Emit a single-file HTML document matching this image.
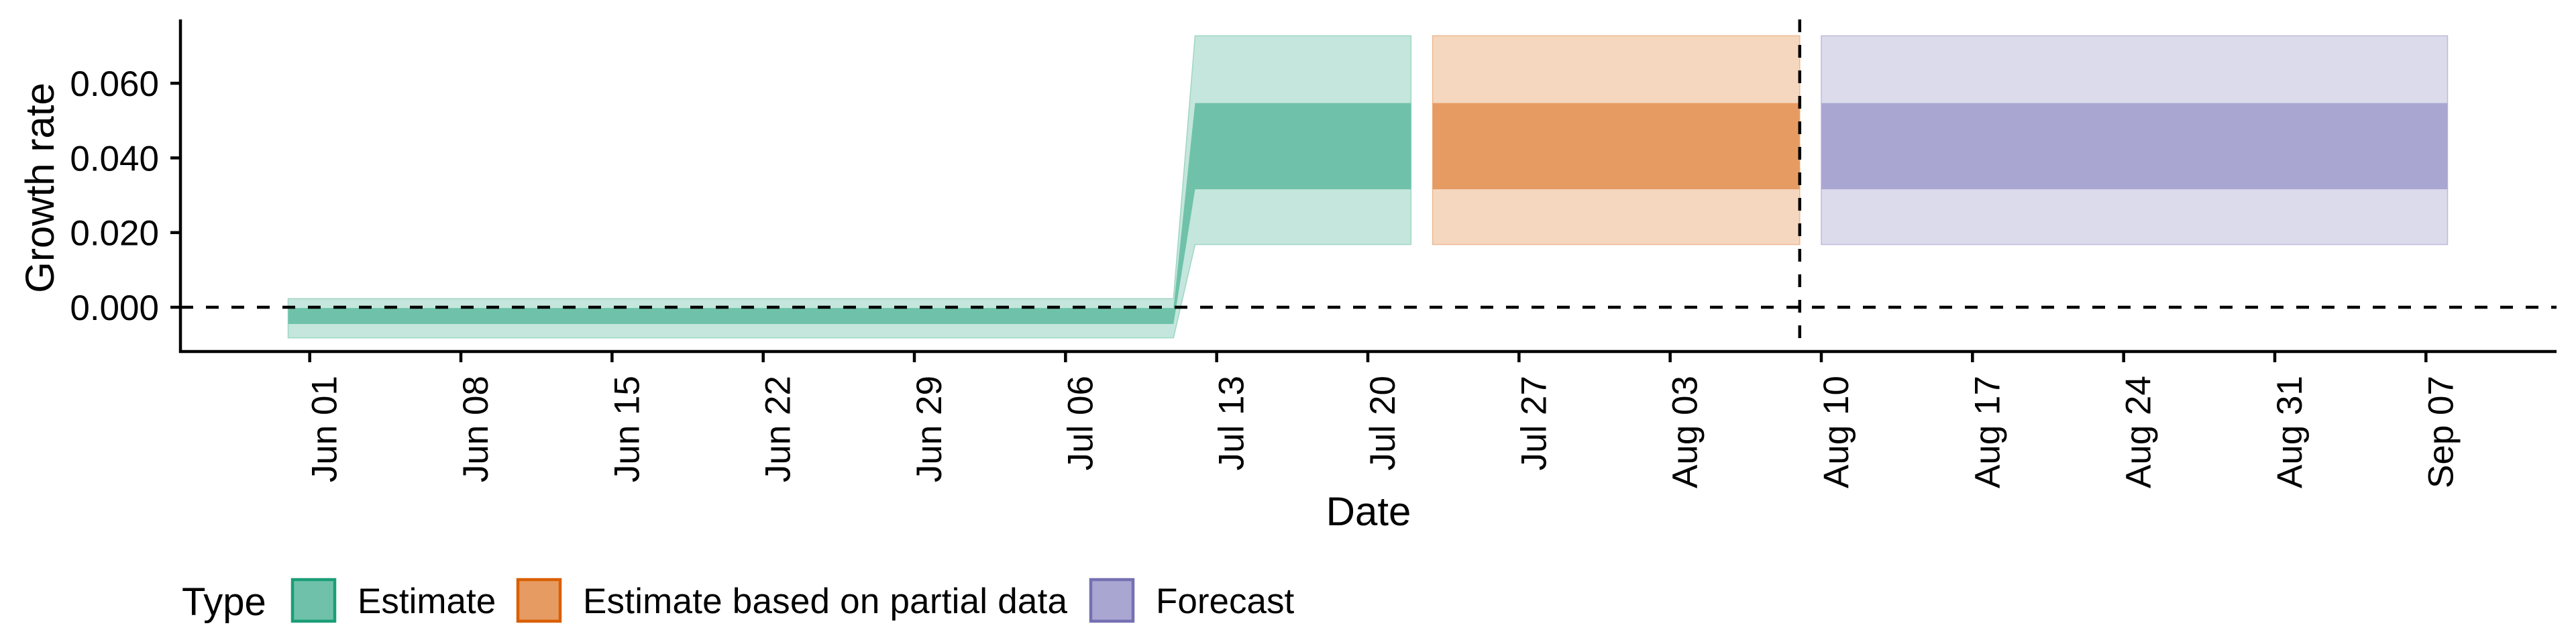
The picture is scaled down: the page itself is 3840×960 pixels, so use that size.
<!DOCTYPE html>
<html><head><meta charset="utf-8"><style>
html,body{margin:0;padding:0;background:#fff;}
svg{display:block;font-family:"Liberation Sans",Arial,sans-serif;}
</style></head><body>
<svg id="chart" width="3840" height="960" viewBox="0 0 3840 960" xmlns="http://www.w3.org/2000/svg">
<g id="bands"></g>
<g id="axes"></g>
</svg>
<script>
const tickDays = [0,7,14,21,28,35,42,49,56,63,70,77,84,91,98];
const tickLabels = ["Jun 01","Jun 08","Jun 15","Jun 22","Jun 29","Jul 06","Jul 13","Jul 20","Jul 27","Aug 03","Aug 10","Aug 17","Aug 24","Aug 31","Sep 07"];
const yTicks = [0, 0.02, 0.04, 0.06];
const yTickLabels = ["0.000","0.020","0.040","0.060"];
const estDays = [-1, 40, 41, 51];
const estLo90 = [-0.0082, -0.0082, 0.0168, 0.0168];
const estHi90 = [0.0023, 0.0023, 0.0727, 0.0727];
const estLo50 = [-0.0045, -0.0045, 0.0316, 0.0316];
const estHi50 = [-0.0002, -0.0002, 0.0547, 0.0547];
const partDays = [52, 69];
const partLo90 = [0.0168, 0.0168];
const partHi90 = [0.0727, 0.0727];
const partLo50 = [0.0316, 0.0316];
const partHi50 = [0.0547, 0.0547];
const fcDays = [70, 99];
const fcLo90 = [0.0168, 0.0168];
const fcHi90 = [0.0727, 0.0727];
const fcLo50 = [0.0316, 0.0316];
const fcHi50 = [0.0547, 0.0547];
const dataDateDay = 69;

const NS = "http://www.w3.org/2000/svg";
const X0 = 461.7, PXD = 32.19;
function xs(d){ return X0 + d*PXD; }
function ys(v){ return 458 - v/0.02*111.3; }
function mk(tag, attrs, parent){ const e=document.createElementNS(NS,tag); for(const k in attrs) e.setAttribute(k,attrs[k]); parent.appendChild(e); return e; }
const bands = document.getElementById('bands');
const axes = document.getElementById('axes');

function ribbon(days, lo, hi, fill, stroke, name){
  let pts = [];
  for(let i=0;i<days.length;i++) pts.push(xs(days[i])+","+ys(hi[i]));
  for(let i=days.length-1;i>=0;i--) pts.push(xs(days[i])+","+ys(lo[i]));
  const p = mk('polygon',{points:pts.join(' '),fill:fill,stroke:stroke,'stroke-width':1.5},bands);
  
  
}
ribbon(estDays, estLo90, estHi90, '#c5e6dc', '#9fd6c4', 'estimate-90-ribbon');
ribbon(estDays, estLo50, estHi50, '#6fc2a9', 'none', 'estimate-50-ribbon');
ribbon(partDays, partLo90, partHi90, '#f5d7bf', '#eeb891', 'partial-90-ribbon');
ribbon(partDays, partLo50, partHi50, '#e69b62', 'none', 'partial-50-ribbon');
ribbon(fcDays, fcLo90, fcHi90, '#dcdbec', '#bcbadb', 'forecast-90-ribbon');
ribbon(fcDays, fcLo50, fcHi50, '#a9a7d1', 'none', 'forecast-50-ribbon');

// reference lines
let l = mk('line',{x1:269,x2:3811,y1:ys(0),y2:ys(0),stroke:'#000','stroke-width':4.5,'stroke-dasharray':'19 19'},axes);


l = mk('line',{x1:xs(dataDateDay),x2:xs(dataDateDay),y1:29,y2:524,stroke:'#000','stroke-width':4.5,'stroke-dasharray':'19 19'},axes);



// axes
l = mk('line',{x1:269,x2:269,y1:29,y2:526,stroke:'#000','stroke-width':4.5},axes);


l = mk('line',{x1:267,x2:3811,y1:524,y2:524,stroke:'#000','stroke-width':4.5},axes);



yTicks.forEach((v,i)=>{
  const t = mk('line',{x1:254,x2:269,y1:ys(v),y2:ys(v),stroke:'#000','stroke-width':4.5},axes);
  
  
  const tx = mk('text',{x:237,y:ys(v)+19,'font-size':53,'text-anchor':'end',fill:'#000'},axes);
  
  
  tx.textContent = yTickLabels[i];
});
tickDays.forEach((d,i)=>{
  const x = xs(d);
  const t = mk('line',{x1:x,x2:x,y1:524,y2:540,stroke:'#000','stroke-width':4.5},axes);
  
  
  const tx = mk('text',{x:0,y:0,'font-size':53,'text-anchor':'end',fill:'#000',transform:'translate('+(x+40)+',560) rotate(-90)'},axes);
  
  
  tx.textContent = tickLabels[i];
});
</script>
<svg style="position:absolute;left:0;top:0" width="3840" height="960" xmlns="http://www.w3.org/2000/svg">
<text x="0" y="0" transform="translate(80,280) rotate(-90)" font-size="60" text-anchor="middle" font-family="Liberation Sans, sans-serif">Growth rate</text>
<text x="2040" y="783" font-size="60" text-anchor="middle" font-family="Liberation Sans, sans-serif">Date</text>
<g font-family="Liberation Sans, sans-serif">
<text x="271" y="917" font-size="58">Type</text>
<rect x="436" y="864" width="63" height="62" fill="#6fc2a9" stroke="#1b9e77" stroke-width="4.5"/>
<text x="533" y="914" font-size="53">Estimate</text>
<rect x="772" y="864" width="63" height="62" fill="#e69b62" stroke="#d95f02" stroke-width="4.5"/>
<text x="869" y="914" font-size="53" textLength="722">Estimate based on partial data</text>
<rect x="1626" y="864" width="63" height="62" fill="#a9a7d1" stroke="#7570b3" stroke-width="4.5"/>
<text x="1723" y="914" font-size="53">Forecast</text>
</g>
</svg>
</body></html>
